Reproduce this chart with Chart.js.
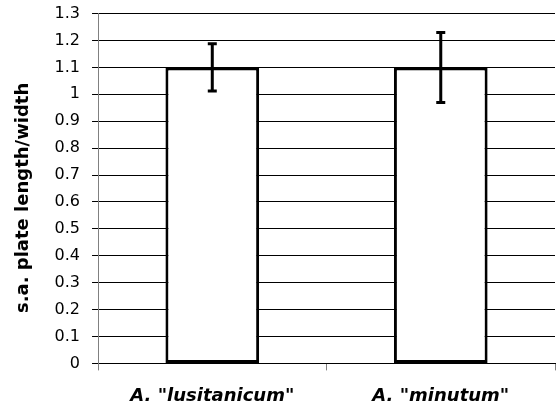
<!DOCTYPE html>
<html>
<head>
<meta charset="utf-8">
<script src="https://cdn.jsdelivr.net/npm/chart.js@4"></script>
<style>
    html, body { margin: 0; padding: 0; background: #fff; }
    #wrap { width: 556px; height: 406px; }
</style>
</head>
<body>
<div id="wrap"><canvas id="plateChart"></canvas></div>
<script>
// Chart data
const species = ['A. "lusitanicum"', 'A. "minutum"'];
const ratioMeans = [1.1, 1.1];
const errLow = [1.012, 0.97];
const errHigh = [1.188, 1.23];

// Draw the error bars from the y scale
const errorBarPlugin = {
    id: "errorBars",
    afterDatasetsDraw(chart) {
        const ctx = chart.ctx;
        const yScale = chart.scales.y;
        const meta = chart.getDatasetMeta(0);
        ctx.save();
        ctx.strokeStyle = "#000";
        ctx.lineWidth = 3;
        meta.data.forEach((bar, i) => {
            const x = bar.x;
            const top = yScale.getPixelForValue(errHigh[i]);
            const bottom = yScale.getPixelForValue(errLow[i]);
            ctx.beginPath();
            ctx.moveTo(x, top);
            ctx.lineTo(x, bottom);
            ctx.moveTo(x - 4.5, top);
            ctx.lineTo(x + 4.5, top);
            ctx.moveTo(x - 4.5, bottom);
            ctx.lineTo(x + 4.5, bottom);
            ctx.stroke();
        });
        ctx.restore();
    },
};

const plateChart = new Chart(document.getElementById("plateChart"), {
    type: "bar",
    data: {
        labels: species,
        datasets: [{
            data: ratioMeans,
            backgroundColor: "#fff",
            borderColor: "#000",
            borderWidth: 3,
            borderSkipped: false,
            barPercentage: 0.41,
            categoryPercentage: 1,
        }, ],
    },
    options: {
        responsive: true,
        maintainAspectRatio: false,
        animation: false,
        layout: {
            padding: { top: 0, right: 1, bottom: -16, left: 13 },
        },
        plugins: {
            legend: { display: false },
            tooltip: { enabled: false },
        },
        scales: {
            x: {
                offset: true,
                grid: {
                    offset: true,
                    drawOnChartArea: false,
                    color: "#808080",
                    tickLength: 7,
                },
                border: { color: "#000", width: 1 },
                ticks: {
                    color: "#000",
                    padding: 15,
                    font: { family: "DejaVu Sans", size: 18, weight: "bold", style: "italic" },
                },
            },
            y: {
                min: 0,
                max: 1.3,
                ticks: {
                    stepSize: 0.1,
                    color: "#000",
                    padding: 12,
                    // small line height keeps the top label from pushing the plot down
                    font: { family: "DejaVu Sans", size: 16, lineHeight: 0.2 },
                    callback: (value) => String(Math.round(value * 10) / 10),
                },
                grid: {
                    color: "#000",
                    tickLength: 6,
                },
                border: { color: "#808080", width: 1 },
                title: {
                    display: true,
                    text: "s.a. plate length/width   ",
                    color: "#000",
                    padding: { top: 0, bottom: 8 },
                    font: { family: "DejaVu Sans", size: 18, weight: "bold" },
                },
            },
        },
    },
    plugins: [errorBarPlugin],
});
</script>
</body>
</html>
